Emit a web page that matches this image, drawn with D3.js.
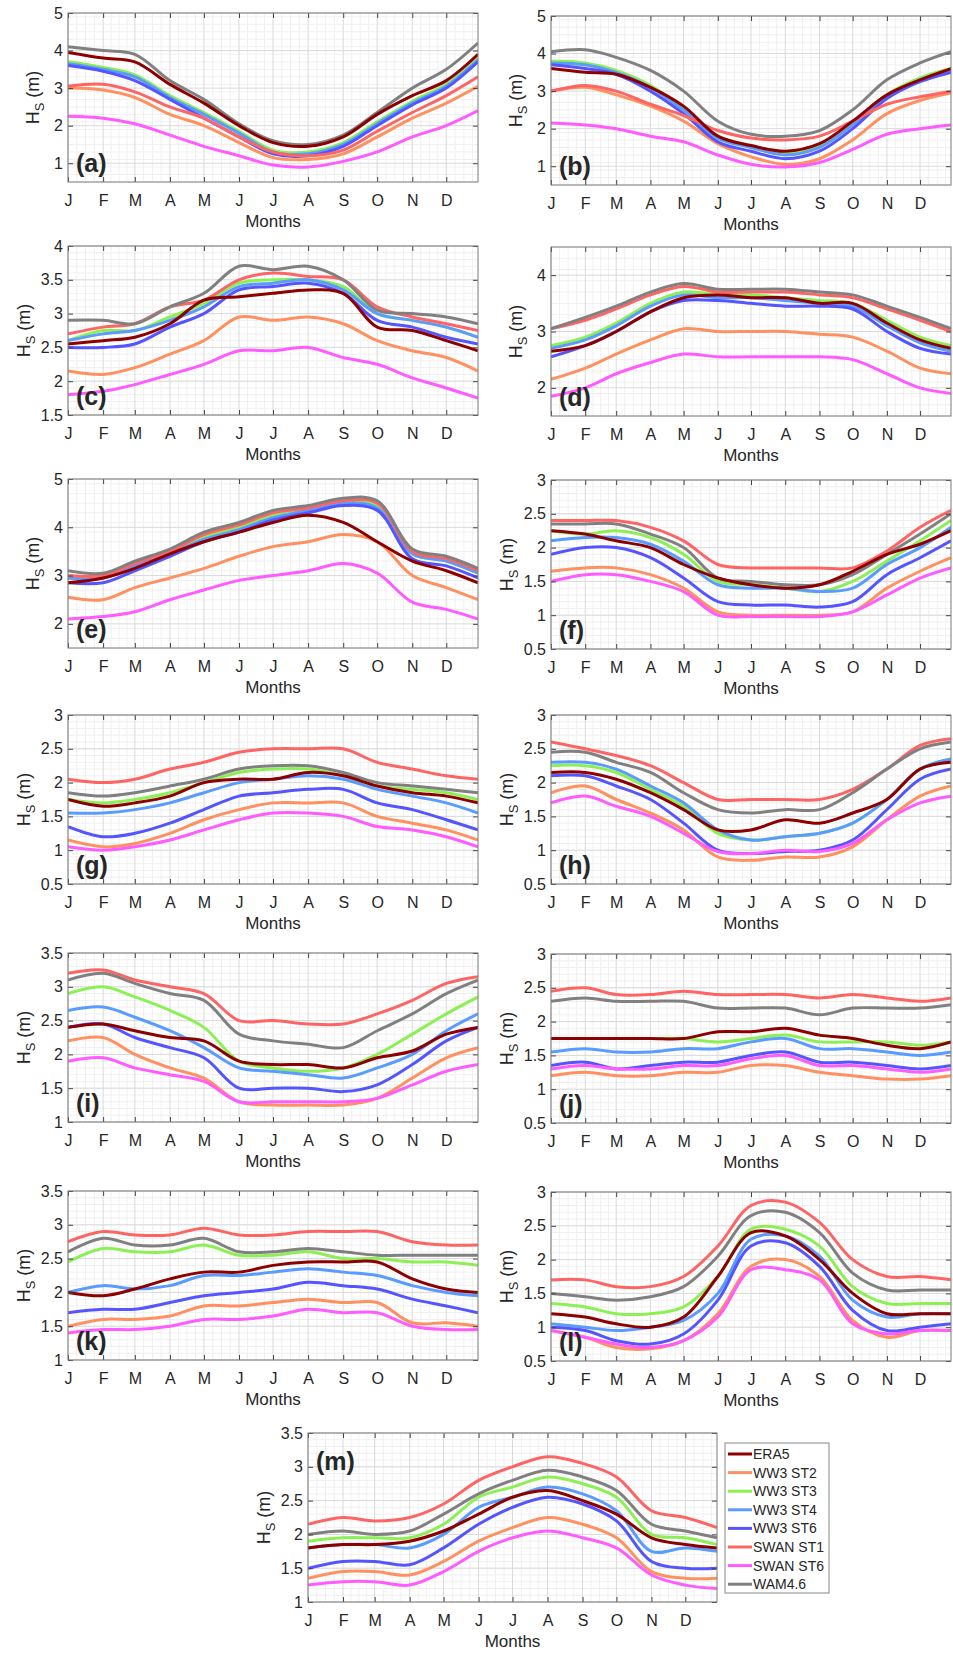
<!DOCTYPE html>
<html>
<head>
<meta charset="utf-8">
<script src="https://cdn.jsdelivr.net/npm/d3@7"></script>
<style>
  body { margin: 0; background: #fff; }
  text { font-family: "Liberation Sans", Arial, sans-serif; fill: #262626; }
</style>
</head>
<body>
<div id="chart"></div>
<script>
// month ticks (day of year) and their labels
const months = ['J','F','M','A','M','J','J','A','S','O','N','D']
const monthDays = [1, 32, 60, 91, 121, 152, 182, 213, 244, 274, 305, 335]
const sampleDays = [1, 32, 60, 91, 121, 152, 182, 213, 244, 274, 305, 335, 363]

const seriesNames = ['ERA5', 'WW3 ST2', 'WW3 ST3', 'WW3 ST4', 'WW3 ST6', 'SWAN ST1', 'SWAN ST6', 'WAM4.6']
const seriesColors = ['#8c0000', '#ff9060', '#8cf055', '#5a9bff', '#5555ff', '#ff6464', '#ff5cff', '#808080']

// one row per series, same order as seriesNames
const hsA = [
  [3.95, 3.8, 3.7, 3.1, 2.6, 2.0, 1.55, 1.45, 1.7, 2.3, 2.8, 3.2, 3.9],
  [3.0, 2.95, 2.75, 2.3, 2.0, 1.55, 1.15, 1.1, 1.25, 1.7, 2.2, 2.6, 3.05],
  [3.7, 3.55, 3.35, 2.8, 2.35, 1.85, 1.35, 1.3, 1.55, 2.1, 2.65, 3.1, 3.8],
  [3.65, 3.5, 3.3, 2.75, 2.3, 1.8, 1.3, 1.25, 1.5, 2.05, 2.6, 3.05, 3.75],
  [3.6, 3.45, 3.2, 2.7, 2.2, 1.7, 1.25, 1.2, 1.45, 2.0, 2.55, 3.0, 3.7],
  [3.05, 3.1, 2.9, 2.5, 2.2, 1.7, 1.3, 1.2, 1.35, 1.85, 2.35, 2.8, 3.3],
  [2.25, 2.2, 2.05, 1.75, 1.45, 1.2, 0.95, 0.9, 1.05, 1.3, 1.7, 2.0, 2.4],
  [4.1, 4.0, 3.9, 3.2, 2.7, 2.05, 1.6, 1.5, 1.75, 2.35, 3.0, 3.5, 4.2]
]
const hsB = [
  [3.6, 3.5, 3.45, 3.1, 2.6, 1.8, 1.55, 1.4, 1.6, 2.2, 2.9, 3.3, 3.6],
  [3.0, 3.1, 2.9, 2.6, 2.2, 1.6, 1.25, 1.05, 1.2, 1.7, 2.4, 2.75, 2.95],
  [3.8, 3.75, 3.55, 3.15, 2.55, 1.8, 1.55, 1.35, 1.55, 2.15, 2.9, 3.35, 3.6],
  [3.75, 3.7, 3.5, 3.1, 2.5, 1.75, 1.5, 1.3, 1.5, 2.1, 2.85, 3.3, 3.55],
  [3.7, 3.6, 3.45, 3.0, 2.4, 1.65, 1.4, 1.2, 1.4, 2.0, 2.8, 3.25, 3.5],
  [3.0, 3.15, 3.0, 2.65, 2.35, 1.95, 1.75, 1.7, 1.8, 2.2, 2.65, 2.85, 3.0],
  [2.15, 2.1, 2.0, 1.8, 1.65, 1.3, 1.05, 0.98, 1.1, 1.45, 1.85, 2.0, 2.1],
  [4.05, 4.1, 3.9, 3.55, 3.0, 2.2, 1.85, 1.8, 1.95, 2.5, 3.3, 3.75, 4.05]
]
const hsC = [
  [2.55, 2.6, 2.65, 2.85, 3.2, 3.25, 3.3, 3.35, 3.3, 2.8, 2.75, 2.6, 2.45],
  [2.15, 2.1, 2.2, 2.4, 2.6, 2.95, 2.9, 2.95, 2.85, 2.6, 2.45, 2.35, 2.15],
  [2.6, 2.75, 2.75, 2.95, 3.15, 3.45, 3.5, 3.5, 3.4, 3.0, 2.9, 2.8, 2.65],
  [2.6, 2.7, 2.75, 2.9, 3.1, 3.4, 3.45, 3.5, 3.35, 3.0, 2.9, 2.8, 2.65],
  [2.5, 2.5, 2.55, 2.8, 3.0, 3.35, 3.4, 3.45, 3.3, 2.9, 2.8, 2.65, 2.55],
  [2.7, 2.8, 2.85, 3.1, 3.2, 3.5, 3.6, 3.55, 3.5, 3.1, 2.95, 2.85, 2.75],
  [1.8, 1.85, 1.95, 2.1, 2.25, 2.45, 2.45, 2.5, 2.35, 2.25, 2.05, 1.9, 1.75],
  [2.9, 2.9, 2.85, 3.1, 3.3, 3.7, 3.65, 3.7, 3.5, 3.05, 3.0, 2.95, 2.85]
]
const hsD = [
  [2.65, 2.75, 3.0, 3.35, 3.6, 3.65, 3.6, 3.6, 3.5, 3.5, 3.15, 2.85, 2.7],
  [2.15, 2.35, 2.6, 2.85, 3.05, 3.0, 3.0, 3.0, 2.95, 2.9, 2.65, 2.35, 2.25],
  [2.75, 2.9, 3.15, 3.5, 3.7, 3.65, 3.65, 3.6, 3.55, 3.5, 3.2, 2.9, 2.75],
  [2.7, 2.85, 3.1, 3.45, 3.65, 3.6, 3.6, 3.55, 3.5, 3.45, 3.1, 2.8, 2.65],
  [2.55, 2.75, 3.0, 3.35, 3.55, 3.55, 3.5, 3.45, 3.45, 3.4, 3.0, 2.7, 2.6],
  [3.05, 3.2, 3.4, 3.65, 3.8, 3.7, 3.7, 3.7, 3.65, 3.6, 3.4, 3.2, 3.0],
  [1.85, 2.0, 2.25, 2.45, 2.6, 2.55, 2.55, 2.55, 2.55, 2.5, 2.25, 2.0, 1.9],
  [3.05, 3.25, 3.45, 3.7, 3.85, 3.75, 3.75, 3.75, 3.7, 3.65, 3.45, 3.25, 3.05]
]
const hsE = [
  [2.85, 2.95, 3.15, 3.45, 3.7, 3.9, 4.1, 4.25, 4.1, 3.7, 3.3, 3.1, 2.85],
  [2.55, 2.5, 2.75, 2.95, 3.15, 3.4, 3.6, 3.7, 3.85, 3.7, 3.0, 2.75, 2.5],
  [2.95, 2.95, 3.2, 3.45, 3.8, 4.0, 4.25, 4.35, 4.5, 4.45, 3.45, 3.3, 3.05],
  [2.95, 2.95, 3.2, 3.45, 3.75, 3.95, 4.2, 4.35, 4.5, 4.4, 3.45, 3.3, 3.05],
  [2.85, 2.85, 3.1, 3.4, 3.7, 3.9, 4.15, 4.3, 4.45, 4.35, 3.35, 3.2, 2.95],
  [3.0, 3.0, 3.25, 3.5, 3.85, 4.05, 4.3, 4.4, 4.55, 4.5, 3.5, 3.35, 3.1],
  [2.1, 2.15, 2.25, 2.5, 2.7, 2.9, 3.0, 3.1, 3.25, 3.05, 2.45, 2.3, 2.1],
  [3.1, 3.05, 3.3, 3.55, 3.9, 4.1, 4.35, 4.45, 4.6, 4.55, 3.55, 3.4, 3.15]
]
const hsF = [
  [2.25, 2.2, 2.1, 2.0, 1.75, 1.55, 1.45, 1.4, 1.45, 1.65, 1.9, 2.05, 2.25],
  [1.65, 1.7, 1.7, 1.6, 1.4, 1.05, 1.0, 1.0, 1.0, 1.05, 1.4, 1.65, 1.85],
  [2.25, 2.2, 2.25, 2.15, 1.9, 1.5, 1.45, 1.4, 1.35, 1.5, 1.8, 2.1, 2.4],
  [2.1, 2.15, 2.15, 2.05, 1.8, 1.45, 1.4, 1.4, 1.35, 1.4, 1.75, 2.0, 2.3],
  [1.9, 2.0, 2.0, 1.85, 1.55, 1.2, 1.15, 1.15, 1.12, 1.2, 1.6, 1.85, 2.1],
  [2.4, 2.4, 2.4, 2.3, 2.1, 1.75, 1.7, 1.7, 1.7, 1.7, 1.95, 2.3, 2.55],
  [1.5, 1.6, 1.6, 1.5, 1.35, 1.0, 0.98, 0.98, 0.98, 1.05, 1.3, 1.55, 1.7],
  [2.35, 2.35, 2.35, 2.2, 2.0, 1.55, 1.5, 1.45, 1.45, 1.6, 1.9, 2.2, 2.5]
]
const hsG = [
  [1.75, 1.65, 1.7, 1.8, 2.0, 2.05, 2.05, 2.15, 2.1, 1.95, 1.85, 1.8, 1.7],
  [1.15, 1.05, 1.1, 1.25, 1.45, 1.6, 1.7, 1.7, 1.7, 1.5, 1.4, 1.3, 1.15],
  [1.75, 1.7, 1.75, 1.85, 2.0, 2.15, 2.2, 2.2, 2.1, 1.95, 1.9, 1.85, 1.75],
  [1.55, 1.55, 1.6, 1.7, 1.85, 2.0, 2.05, 2.1, 2.05, 1.9, 1.8, 1.7, 1.55],
  [1.35, 1.2, 1.25, 1.4, 1.6, 1.8, 1.85, 1.9, 1.9, 1.7, 1.6, 1.45, 1.3],
  [2.05, 2.0, 2.05, 2.2, 2.3, 2.45, 2.5, 2.5, 2.5, 2.3, 2.2, 2.1, 2.05],
  [1.05, 1.0, 1.05, 1.15, 1.3, 1.45, 1.55, 1.55, 1.5, 1.35, 1.3, 1.2, 1.05],
  [1.85, 1.8, 1.85, 1.95, 2.05, 2.2, 2.25, 2.25, 2.15, 2.0, 1.95, 1.9, 1.85]
]
const hsH = [
  [2.15, 2.15, 2.05, 1.85, 1.6, 1.3, 1.3, 1.45, 1.4, 1.55, 1.75, 2.2, 2.3],
  [1.85, 1.95, 1.75, 1.55, 1.3, 0.9, 0.85, 0.9, 0.9, 1.05, 1.45, 1.8, 1.95],
  [2.25, 2.25, 2.15, 1.9, 1.65, 1.25, 1.15, 1.2, 1.25, 1.4, 1.75, 2.2, 2.35],
  [2.3, 2.3, 2.2, 1.95, 1.7, 1.3, 1.15, 1.2, 1.25, 1.4, 1.75, 2.2, 2.35],
  [2.1, 2.1, 1.95, 1.75, 1.4, 1.0, 0.95, 0.98, 1.0, 1.15, 1.6, 2.05, 2.2],
  [2.6, 2.5, 2.4, 2.25, 2.0, 1.75, 1.75, 1.75, 1.75, 1.9, 2.2, 2.55, 2.65],
  [1.7, 1.8, 1.65, 1.5, 1.25, 0.98, 0.95, 1.0, 0.98, 1.1, 1.45, 1.7, 1.8],
  [2.45, 2.45, 2.3, 2.15, 1.85, 1.6, 1.55, 1.6, 1.6, 1.85, 2.2, 2.5, 2.6]
]
const hsI = [
  [2.4, 2.45, 2.35, 2.25, 2.2, 1.9, 1.85, 1.85, 1.8, 1.95, 2.05, 2.3, 2.4],
  [2.2, 2.25, 2.0, 1.8, 1.65, 1.3, 1.25, 1.25, 1.25, 1.35, 1.65, 1.95, 2.1],
  [2.9, 3.0, 2.85, 2.65, 2.4, 1.9, 1.8, 1.75, 1.8, 2.0, 2.3, 2.6, 2.85],
  [2.65, 2.7, 2.55, 2.35, 2.1, 1.8, 1.75, 1.7, 1.65, 1.8, 2.0, 2.35, 2.6],
  [2.4, 2.45, 2.25, 2.1, 1.95, 1.5, 1.5, 1.5, 1.45, 1.55, 1.85, 2.2, 2.4],
  [3.2, 3.25, 3.1, 3.0, 2.9, 2.5, 2.5, 2.45, 2.45, 2.6, 2.8, 3.05, 3.15],
  [1.9, 1.95, 1.8, 1.7, 1.6, 1.3, 1.3, 1.3, 1.3, 1.35, 1.55, 1.75, 1.85],
  [3.1, 3.2, 3.05, 2.9, 2.8, 2.3, 2.2, 2.15, 2.1, 2.35, 2.6, 2.9, 3.1]
]
const hsJ = [
  [1.75, 1.75, 1.75, 1.75, 1.75, 1.85, 1.85, 1.9, 1.8, 1.75, 1.65, 1.6, 1.7],
  [1.2, 1.25, 1.2, 1.2, 1.25, 1.25, 1.35, 1.35, 1.25, 1.2, 1.15, 1.15, 1.2],
  [1.75, 1.75, 1.75, 1.75, 1.75, 1.7, 1.75, 1.8, 1.7, 1.7, 1.7, 1.65, 1.7],
  [1.55, 1.6, 1.55, 1.55, 1.6, 1.6, 1.7, 1.75, 1.6, 1.6, 1.55, 1.5, 1.55],
  [1.35, 1.4, 1.3, 1.35, 1.4, 1.4, 1.5, 1.55, 1.4, 1.4, 1.35, 1.3, 1.35],
  [2.45, 2.5, 2.4, 2.4, 2.45, 2.4, 2.4, 2.4, 2.35, 2.4, 2.35, 2.3, 2.35],
  [1.3, 1.35, 1.3, 1.3, 1.35, 1.35, 1.45, 1.5, 1.35, 1.35, 1.3, 1.25, 1.3],
  [2.3, 2.35, 2.3, 2.3, 2.3, 2.2, 2.2, 2.2, 2.1, 2.2, 2.2, 2.2, 2.25]
]
const hsK = [
  [2.0, 1.95, 2.05, 2.2, 2.3, 2.3, 2.4, 2.45, 2.45, 2.45, 2.2, 2.05, 2.0],
  [1.5, 1.6, 1.6, 1.65, 1.8, 1.8, 1.85, 1.9, 1.85, 1.85, 1.55, 1.55, 1.5],
  [2.45, 2.65, 2.6, 2.6, 2.7, 2.55, 2.55, 2.6, 2.5, 2.5, 2.45, 2.45, 2.4],
  [2.0, 2.1, 2.05, 2.1, 2.25, 2.25, 2.3, 2.35, 2.3, 2.25, 2.1, 2.0, 1.95],
  [1.7, 1.75, 1.75, 1.85, 1.95, 2.0, 2.05, 2.15, 2.1, 2.05, 1.9, 1.8, 1.7],
  [2.75, 2.9, 2.85, 2.85, 2.95, 2.85, 2.85, 2.9, 2.9, 2.9, 2.75, 2.7, 2.7],
  [1.4, 1.45, 1.45, 1.5, 1.6, 1.6, 1.65, 1.75, 1.7, 1.7, 1.5, 1.45, 1.45],
  [2.6, 2.8, 2.7, 2.7, 2.8, 2.6, 2.6, 2.65, 2.6, 2.55, 2.55, 2.55, 2.55]
]
const hsL = [
  [1.2, 1.15, 1.05, 1.0, 1.15, 1.75, 2.4, 2.35, 2.0, 1.5, 1.2, 1.2, 1.2],
  [0.95, 0.85, 0.7, 0.68, 0.8, 1.2, 1.9, 2.0, 1.75, 1.1, 0.85, 0.95, 0.95],
  [1.35, 1.3, 1.2, 1.2, 1.3, 1.75, 2.45, 2.45, 2.2, 1.6, 1.35, 1.35, 1.35],
  [1.05, 1.0, 0.95, 1.0, 1.1, 1.5, 2.3, 2.35, 2.05, 1.4, 1.15, 1.2, 1.2],
  [1.0, 0.95, 0.8, 0.75, 0.9, 1.4, 2.2, 2.25, 1.9, 1.25, 0.95, 1.0, 1.05],
  [1.7, 1.7, 1.6, 1.6, 1.75, 2.2, 2.8, 2.85, 2.55, 2.0, 1.75, 1.75, 1.7],
  [0.95, 0.85, 0.75, 0.7, 0.8, 1.15, 1.85, 1.85, 1.7, 1.05, 0.9, 0.95, 0.95],
  [1.5, 1.45, 1.4, 1.45, 1.6, 2.05, 2.65, 2.7, 2.4, 1.8, 1.55, 1.55, 1.55]
]
const hsM = [
  [1.8, 1.85, 1.85, 1.9, 2.05, 2.3, 2.55, 2.65, 2.5, 2.3, 1.95, 1.85, 1.8],
  [1.35, 1.45, 1.45, 1.4, 1.6, 1.9, 2.1, 2.25, 2.15, 1.95, 1.45, 1.35, 1.35],
  [1.9, 1.95, 1.95, 1.95, 2.15, 2.55, 2.7, 2.85, 2.75, 2.55, 2.0, 1.95, 1.85],
  [1.8, 1.85, 1.85, 1.8, 2.0, 2.4, 2.55, 2.7, 2.6, 2.35, 1.75, 1.8, 1.75],
  [1.5, 1.6, 1.6, 1.55, 1.8, 2.15, 2.4, 2.55, 2.45, 2.2, 1.6, 1.5, 1.5],
  [2.15, 2.25, 2.2, 2.25, 2.45, 2.8, 3.0, 3.15, 3.05, 2.85, 2.35, 2.25, 2.1],
  [1.25, 1.3, 1.3, 1.25, 1.45, 1.75, 1.95, 2.05, 1.95, 1.8, 1.4, 1.25, 1.2],
  [2.0, 2.05, 2.0, 2.05, 2.3, 2.6, 2.8, 2.95, 2.85, 2.65, 2.15, 2.05, 1.95]
]

// y ranges and tick values of each panel
const yDomains = {
  a: [0.5, 5], b: [0.5, 5], c: [1.5, 4], d: [1.5, 4.5], e: [1.5, 5], f: [0.5, 3], g: [0.5, 3],
  h: [0.5, 3], i: [1, 3.5], j: [0.5, 3], k: [1, 3.5], l: [0.5, 3], m: [1, 3.5]
}
const yTicks = {
  a: [1, 2, 3, 4, 5], b: [1, 2, 3, 4, 5], c: [1.5, 2, 2.5, 3, 3.5, 4], d: [2, 3, 4], e: [2, 3, 4, 5],
  f: [0.5, 1, 1.5, 2, 2.5, 3], g: [0.5, 1, 1.5, 2, 2.5, 3], h: [0.5, 1, 1.5, 2, 2.5, 3],
  i: [1, 1.5, 2, 2.5, 3, 3.5], j: [0.5, 1, 1.5, 2, 2.5, 3], k: [1, 1.5, 2, 2.5, 3, 3.5],
  l: [0.5, 1, 1.5, 2, 2.5, 3], m: [1, 1.5, 2, 2.5, 3, 3.5]
}
const panelData = {a: hsA, b: hsB, c: hsC, d: hsD, e: hsE, f: hsF, g: hsG, h: hsH, i: hsI, j: hsJ, k: hsK, l: hsL, m: hsM}

// page layout of the axes boxes
const layout = [
  {id: 'a', x: 68, y: 13, w: 410}, {id: 'b', x: 551, y: 16, w: 400},
  {id: 'c', x: 68, y: 246, w: 410}, {id: 'd', x: 551, y: 247, w: 400},
  {id: 'e', x: 68, y: 479, w: 410}, {id: 'f', x: 551, y: 480, w: 400},
  {id: 'g', x: 68, y: 715, w: 410}, {id: 'h', x: 551, y: 715, w: 400},
  {id: 'i', x: 68, y: 953, w: 410}, {id: 'j', x: 551, y: 954, w: 400},
  {id: 'k', x: 68, y: 1191, w: 410}, {id: 'l', x: 551, y: 1192, w: 400},
  {id: 'm', x: 308, y: 1433, w: 409, labelTop: true}
]
const panelH = 169

const svg = d3.select('#chart').append('svg')
  .attr('width', 953)
  .attr('height', 1654)

// draw order: reference last so it sits on top
const drawOrder = [1, 2, 3, 4, 5, 6, 7, 0]

function draw_panel(p) {
  const w = p.w, h = panelH
  const dom = yDomains[p.id]
  const ticks = yTicks[p.id]
  const data = panelData[p.id]

  const g = svg.append('g').attr('transform', `translate(${p.x},${p.y})`)

  const x = d3.scaleLinear().domain([1, 363]).range([0, w])
  const y = d3.scaleLinear().domain(dom).range([h, 0])

  g.append('clipPath').attr('id', 'clip-' + p.id)
    .append('rect').attr('width', w).attr('height', h)

  // minor grid
  const step = ticks[1] - ticks[0]
  const yMinor = d3.range(dom[0], dom[1] + 1e-9, step / 5)
  const xMinor = []
  monthDays.forEach((d, i) => {
    const next = i < 11 ? monthDays[i + 1] : 366
    for (let k = 1; k < 4; k++) {
      const v = d + k * (next - d) / 4
      if (v < 363) xMinor.push(v)
    }
  })
  const grid = g.append('g')
  grid.selectAll('.ym').data(yMinor).join('line')
    .attr('x1', 0).attr('x2', w)
    .attr('y1', d => y(d)).attr('y2', d => y(d))
    .attr('stroke', '#f0f0f0').attr('stroke-width', 1)
  grid.selectAll('.xm').data(xMinor).join('line')
    .attr('y1', 0).attr('y2', h)
    .attr('x1', d => x(d)).attr('x2', d => x(d))
    .attr('stroke', '#f0f0f0').attr('stroke-width', 1)
  // major grid
  grid.append('g').selectAll('line').data(ticks).join('line')
    .attr('x1', 0).attr('x2', w)
    .attr('y1', d => y(d)).attr('y2', d => y(d))
    .attr('stroke', '#dadada').attr('stroke-width', 1)
  grid.append('g').selectAll('line').data(monthDays).join('line')
    .attr('y1', 0).attr('y2', h)
    .attr('x1', d => x(d)).attr('x2', d => x(d))
    .attr('stroke', '#dadada').attr('stroke-width', 1)

  // series
  const line = d3.line()
    .x((d, i) => x(sampleDays[i]))
    .y(d => y(d))
    .curve(d3.curveCatmullRom)
  g.append('g').attr('clip-path', `url(#clip-${p.id})`)
    .selectAll('path')
    .data(drawOrder)
    .join('path')
      .attr('d', s => line(data[s]))
      .attr('fill', 'none')
      .attr('stroke', s => seriesColors[s])
      .attr('stroke-width', 3)
      .attr('stroke-linejoin', 'round')

  // axes, ticks pointing inward like the original
  const xAxis = d3.axisBottom(x).tickValues(monthDays)
    .tickFormat((d, i) => months[i]).tickSize(-5).tickPadding(13).tickSizeOuter(0)
  const ax = g.append('g').attr('transform', `translate(0,${h})`).call(xAxis)
  ax.selectAll('text').attr('font-size', 16)
  g.append('g').call(d3.axisTop(x).tickValues(monthDays).tickFormat('').tickSize(-5).tickSizeOuter(0))

  const yAxis = d3.axisLeft(y).tickValues(ticks).tickFormat(d3.format('')).tickSize(-5).tickPadding(5).tickSizeOuter(0)
  const ay = g.append('g').call(yAxis)
  ay.selectAll('text').attr('font-size', 16)
  g.append('g').attr('transform', `translate(${w},0)`)
    .call(d3.axisRight(y).tickValues(ticks).tickFormat('').tickSize(-5).tickSizeOuter(0))

  g.selectAll('.domain').remove()
  g.selectAll('.tick line').attr('stroke', '#444')
  g.selectAll('.tick text').attr('fill', '#262626')
    .style('font-family', '"Liberation Sans", Arial, sans-serif')

  g.append('rect').attr('width', w).attr('height', h)
    .attr('fill', 'none').attr('stroke', '#7a7a7a').attr('stroke-width', 1)

  // axis titles
  g.append('text')
    .attr('x', w / 2).attr('y', h + 45)
    .attr('text-anchor', 'middle')
    .attr('font-size', 17)
    .text('Months')

  // y title sits left of the widest tick label
  const maxChars = d3.max(ticks, t => String(t).length)
  const yl = g.append('text')
    .attr('transform', `translate(${-(25 + 4.5 * maxChars)},${h / 2}) rotate(-90)`)
    .attr('text-anchor', 'middle')
    .attr('font-size', 18)
  yl.append('tspan').text('H')
  yl.append('tspan').attr('font-size', 13).attr('dy', 5).text('S')
  yl.append('tspan').attr('dy', -5).text(' (m)')

  // panel letter
  g.append('text')
    .attr('x', 8)
    .attr('y', p.labelTop ? 37 : h - 10)
    .attr('font-size', 25)
    .attr('font-weight', 'bold')
    .attr('fill', '#000')
    .text(`(${p.id})`)
}

layout.forEach(draw_panel)

// legend next to panel (m)
const legend = svg.append('g').attr('transform', 'translate(725,1443)')
legend.append('rect')
  .attr('width', 104).attr('height', 150)
  .attr('fill', '#fff').attr('stroke', '#888').attr('stroke-width', 1)
const items = legend.selectAll('.item')
  .data(seriesNames)
  .join('g')
    .attr('transform', (d, i) => `translate(0,${11 + i * 18.6})`)
items.append('line')
  .attr('x1', 3).attr('x2', 27)
  .attr('stroke', (d, i) => seriesColors[i])
  .attr('stroke-width', 3)
items.append('text')
  .attr('x', 28).attr('y', 5)
  .attr('font-size', 14)
  .text(d => d)
</script>
</body>
</html>
